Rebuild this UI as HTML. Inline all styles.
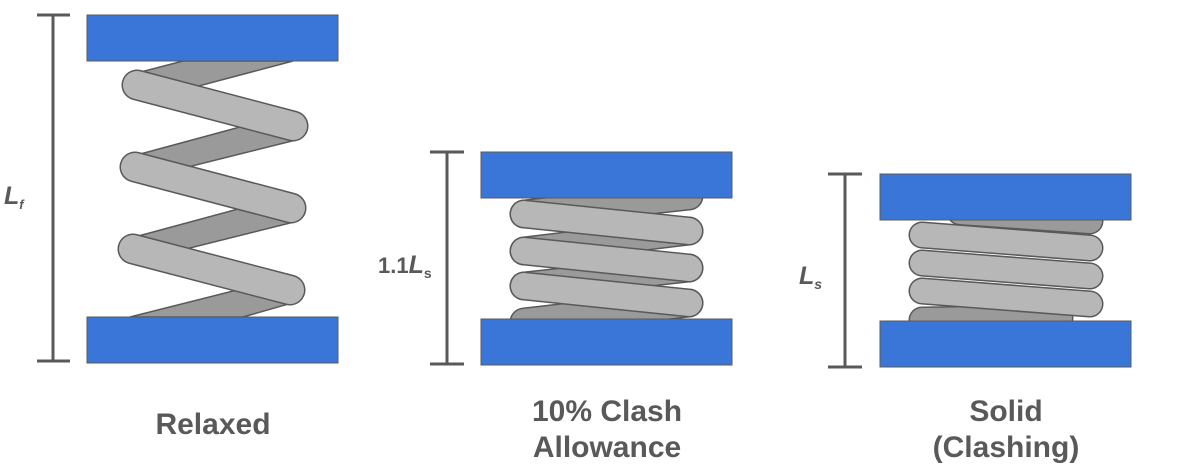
<!DOCTYPE html>
<html><head><meta charset="utf-8"><style>
html,body{margin:0;padding:0;background:#fff;}
svg{display:block}
text{font-family:"Liberation Sans",sans-serif;fill:#595959;font-weight:bold}
</style></head><body>
<svg width="1199" height="471" viewBox="0 0 1199 471">
<g stroke="#595959" stroke-width="3" fill="none">
<line x1="53" y1="15" x2="53" y2="361"/><line x1="37" y1="15" x2="70" y2="15"/><line x1="37" y1="361" x2="70" y2="361"/>
<line x1="447" y1="152" x2="447" y2="364"/><line x1="430" y1="152" x2="464" y2="152"/><line x1="430" y1="364" x2="464" y2="364"/>
<line x1="845" y1="174" x2="845" y2="367"/><line x1="828" y1="174" x2="862" y2="174"/><line x1="828" y1="367" x2="862" y2="367"/>
</g>
<g fill="#9a9a9a" stroke="#595959" stroke-width="1.5">
<polygon points="183,61 293,61 195,87 137,73"/>
<polygon points="240,127 296,140 188,167 133,156"/>
<polygon points="238,209 294,222 186,249 131,238"/>
<polygon points="237,290 292,303 243,317 130,317"/>
</g>
<g stroke-linecap="round">
<g stroke="#595959" stroke-width="31">
<line x1="137" y1="85" x2="293" y2="126"/><line x1="135" y1="167" x2="291" y2="208"/><line x1="133" y1="249" x2="290" y2="290"/>
</g>
<g stroke="#b7b7b7" stroke-width="28">
<line x1="137" y1="85" x2="293" y2="126"/><line x1="135" y1="167" x2="291" y2="208"/><line x1="133" y1="249" x2="290" y2="290"/>
</g>
<g stroke="#595959" stroke-width="29">
<line x1="524" y1="214" x2="689" y2="196"/><line x1="524" y1="251" x2="689" y2="231"/><line x1="524" y1="286" x2="689" y2="268"/><line x1="524" y1="322" x2="689" y2="303"/>
</g>
<g stroke="#9a9a9a" stroke-width="26">
<line x1="524" y1="214" x2="689" y2="196"/><line x1="524" y1="251" x2="689" y2="231"/><line x1="524" y1="286" x2="689" y2="268"/><line x1="524" y1="322" x2="689" y2="303"/>
</g>
<g stroke="#595959" stroke-width="29">
<line x1="524" y1="214" x2="689" y2="231"/><line x1="524" y1="251" x2="689" y2="268"/><line x1="524" y1="286" x2="689" y2="303"/>
</g>
<g stroke="#b7b7b7" stroke-width="26">
<line x1="524" y1="214" x2="689" y2="231"/><line x1="524" y1="251" x2="689" y2="268"/><line x1="524" y1="286" x2="689" y2="303"/>
</g>
<g stroke="#595959" stroke-width="27">
<line x1="960" y1="212" x2="1090" y2="221"/><line x1="922" y1="320" x2="1060" y2="318"/>
</g>
<g stroke="#9a9a9a" stroke-width="24">
<line x1="960" y1="212" x2="1090" y2="221"/><line x1="922" y1="320" x2="1060" y2="318"/>
</g>
<g stroke="#595959" stroke-width="27">
<line x1="922" y1="235" x2="1090" y2="248"/><line x1="922" y1="263" x2="1090" y2="276"/><line x1="922" y1="291" x2="1090" y2="304"/>
</g>
<g stroke="#b7b7b7" stroke-width="24">
<line x1="922" y1="235" x2="1090" y2="248"/><line x1="922" y1="263" x2="1090" y2="276"/><line x1="922" y1="291" x2="1090" y2="304"/>
</g>
</g>
<g fill="#3a76d8" stroke="#595959" stroke-width="1">
<rect x="87" y="15" width="251" height="46"/><rect x="87" y="317" width="251" height="46"/>
<rect x="481" y="152" width="251" height="46"/><rect x="481" y="319" width="251" height="46"/>
<rect x="880" y="174" width="251" height="46"/><rect x="880" y="321" width="251" height="46"/>
</g>
<text x="4" y="204" font-size="25" font-style="italic">L<tspan font-size="13" dy="5">f</tspan></text>
<text x="378" y="273" font-size="22" font-weight="normal">1.1<tspan font-style="italic" font-weight="bold" font-size="25">L</tspan><tspan font-size="14" dy="5">s</tspan></text>
<text x="799" y="284" font-size="25" font-style="italic">L<tspan font-size="14" dy="5">s</tspan></text>
<g font-size="30" text-anchor="middle">
<text x="213" y="434">Relaxed</text>
<text x="607" y="421">10% Clash</text><text x="607" y="457">Allowance</text>
<text x="1006" y="421">Solid</text><text x="1006" y="457">(Clashing)</text>
</g>
</svg>
</body></html>
